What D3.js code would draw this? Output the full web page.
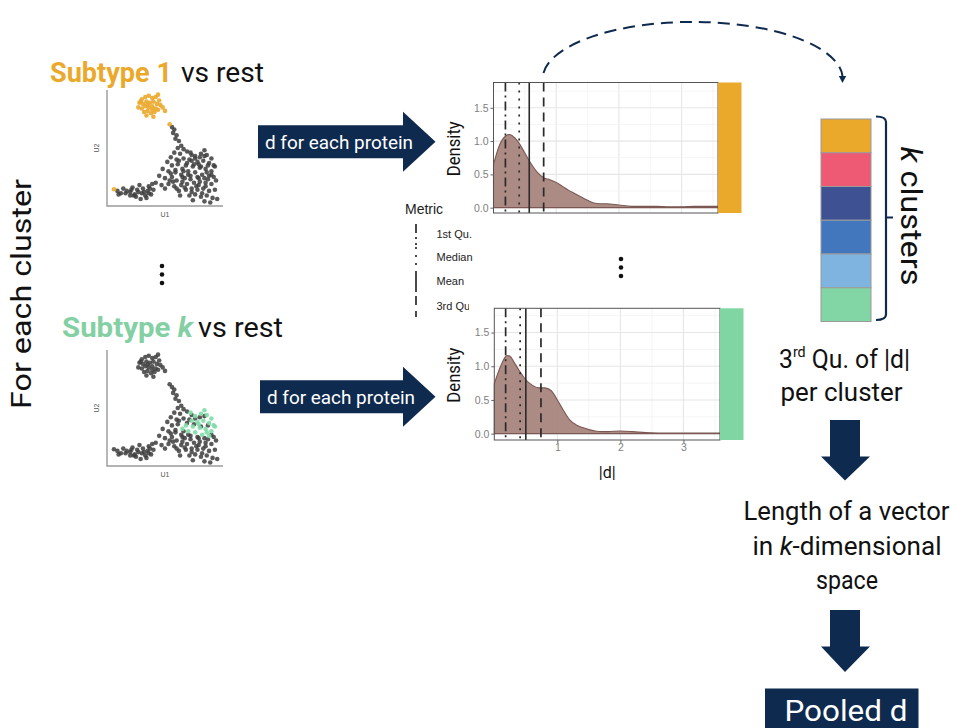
<!DOCTYPE html>
<html><head><meta charset="utf-8">
<script src="https://cdn.jsdelivr.net/npm/d3@7"></script>
<style>body{margin:0;background:#fff}</style>
</head><body>
<svg id="c" width="954" height="728"></svg>
<script>
// ---------------- DATA ----------------
// UMAP embedding (U1, U2), split by group
const s1U1 = [3.0,3.3,3.6,3.9,4.2,4.5,2.8,3.1,3.4,3.7,4.0,4.3,4.6,2.7,3.0,3.3,3.6,3.9,4.2,4.8,3.2,3.5,3.8,4.1,4.4,3.4,4.0,5.0,3.5,3.9,4.4,2.9,5.4,0.6];
const s1U2 = [9.2,9.4,9.5,9.3,9.4,9.1,8.9,8.8,9.0,8.9,9.0,8.8,8.7,8.5,8.4,8.6,8.5,8.6,8.4,8.5,8.1,8.2,8.0,8.1,8.3,7.8,7.7,8.2,8.75,8.3,9.6,9.0,7.05,1.45];
const skU1 = [7.6,8.1,8.6,9.0,7.3,7.8,8.3,8.8,9.2,6.8,7.4,8.0,8.5,9.0,7.0,7.6,8.2,8.8,6.5,9.3,7.9,8.6,7.2,8.4];
const skU2 = [4.3,4.5,4.4,4.1,3.9,3.8,3.9,3.7,3.5,3.5,3.4,3.3,3.2,3.0,3.0,2.9,2.7,2.6,3.2,3.4,3.6,2.9,4.6,4.8];
const restU1 = [5.6,5.8,5.7,6.0,5.9,6.2,6.4,6.1,6.6,
  5.8,6.3,6.9,7.3,5.5,6.0,6.6,7.1,7.6,8.0,8.4,
  5.2,5.6,6.1,4.8,5.3,5.9,6.4,4.5,5.0,5.6,6.0,6.7,7.2,4.2,5.3,5.8,6.4,6.9,7.5,8.0,8.5,9.0,6.2,6.8,7.3,7.8,8.3,8.8,9.3,7.1,7.6,8.1,8.6,9.1,9.5,8.4,8.9,5.5,7.0,9.4,6.3,7.4,5.0,4.7,
  7.9,8.7,9.2,6.5,7.7,8.2,5.7,6.6,
  6.2,6.9,7.5,8.1,8.7,5.9,6.5,7.2,7.8,8.4,9.0,6.7,7.3,7.9,8.5,5.4,6.0,
  0.9,1.2,1.4,1.7,2.0,2.2,2.4,2.6,2.8,3.0,3.1,3.3,3.5,3.6,3.8,4.0,2.5,2.9,3.4,3.9,1.0,2.1,2.7,3.2,3.7,2.3,1.6,2.0,3.6];
const restU2 = [6.8,6.6,6.3,6.1,5.8,5.6,5.2,5.0,4.9,
  4.6,4.5,4.7,4.4,4.2,4.0,4.1,4.0,4.1,4.2,4.3,
  3.8,3.5,3.6,3.2,3.0,3.1,2.7,2.6,2.4,2.5,2.2,2.4,2.3,2.0,1.9,1.7,1.8,1.9,2.0,2.1,2.0,1.9,1.3,1.4,1.5,1.4,1.5,1.3,1.4,0.9,1.0,0.8,0.9,0.7,0.6,0.4,0.3,2.8,2.7,2.2,0.9,0.5,1.5,1.8,
  2.4,2.3,2.5,2.1,1.7,1.1,2.1,3.0,
  3.9,3.7,3.6,3.4,3.5,2.9,2.5,2.6,2.5,2.4,2.7,1.6,1.2,1.8,1.7,2.2,1.5,
  1.3,1.1,1.5,1.3,1.2,1.6,1.0,1.4,1.8,1.1,1.5,0.9,1.3,1.7,1.0,1.4,0.8,0.6,0.7,1.9,1.0,1.4,1.2,1.2,1.5,0.9,1.1,0.9,1.1];

// density of |d| per protein
const densityX  = [0,0.1,0.2,0.25,0.3,0.4,0.5,0.6,0.7,0.8,0.9,1.0,1.1,1.2,1.3,1.4,1.5,1.6,1.7,1.8,2.0,2.2,2.4,2.6,2.8,3.0,3.2,3.4,3.58];
const densityS1 = [0.65,0.95,1.08,1.10,1.08,0.98,0.82,0.66,0.53,0.45,0.42,0.38,0.32,0.26,0.21,0.16,0.11,0.07,0.06,0.06,0.04,0.02,0.02,0.02,0.015,0.015,0.02,0.02,0.02];
const densitySk = [0.74,1.0,1.16,1.15,1.08,0.93,0.80,0.72,0.68,0.68,0.64,0.50,0.34,0.20,0.13,0.09,0.06,0.04,0.03,0.03,0.04,0.03,0.015,0.01,0.01,0.01,0.01,0.01,0.01];

const metricNames = ["1st Qu.","Median","Mean","3rd Qu."];
const metricS1 = [0.19,0.41,0.57,0.80];
const metricSk = [0.18,0.41,0.50,0.74];
const yTicks = [0,0.5,1.0,1.5];
const xTicks = [1,2,3];

const clusterColors = ["#EBA92C","#EE5A73","#3D5193","#4377BD","#7FB3E0","#82D6A5"];

// ---------------- STYLE ----------------
const NAVY = "#0f2a4f";
const ORANGE = "#EBA92C";
const GREEN = "#84D0A4";
const SLIDE = "Roboto, 'Noto Sans', sans-serif";
const GG = "'Liberation Sans', Arial, sans-serif";
const dashes = ["9,4,2,4","2,6",null,"9,6"];

const svg = d3.select("#c");

function fitText(sel, w){ return sel.attr("textLength",w).attr("lengthAdjust","spacingAndGlyphs"); }

// ---------------- LEFT TITLE ----------------
fitText(svg.append("text").attr("transform","translate(31,294) rotate(-90)")
  .attr("text-anchor","middle").attr("font-family",SLIDE).attr("font-size",28).attr("fill","#111"), 230)
  .text("For each cluster");

// ---------------- HEADINGS ----------------
// Subtype 1 vs rest
fitText(svg.append("text").attr("x",50).attr("y",82).attr("font-family",SLIDE).attr("font-weight",700)
  .attr("font-size",28).attr("fill",ORANGE), 122).text("Subtype 1");
fitText(svg.append("text").attr("x",181).attr("y",82).attr("font-family",SLIDE)
  .attr("font-size",28).attr("fill","#111"), 83).text("vs rest");
// Subtype k vs rest
const hk = fitText(svg.append("text").attr("x",62).attr("y",337).attr("font-family",SLIDE).attr("font-weight",700)
  .attr("font-size",28).attr("fill",GREEN), 131);
hk.append("tspan").text("Subtype ");
hk.append("tspan").attr("font-style","italic").text("k");
fitText(svg.append("text").attr("x",198).attr("y",337).attr("font-family",SLIDE)
  .attr("font-size",28).attr("fill","#111"), 85).text("vs rest");

// ---------------- SCATTERS ----------------
function scatter(top, hiU1, hiU2, hiColor, others){
  const x = d3.scaleLinear().domain([0,10]).range([107, 223]);
  const y = d3.scaleLinear().domain([0,10]).range([top+116, top]);
  const g = svg.append("g");
  g.append("path").attr("d",`M${x(0)},${y(10)}V${y(0)}H${x(10)}`).attr("fill","none").attr("stroke","#9a9a9a").attr("stroke-width",1.4);
  g.append("text").attr("x",(x(0)+x(10))/2).attr("y",y(0)+11).attr("text-anchor","middle")
    .attr("font-family",GG).attr("font-size",7).attr("fill","#555").text("U1");
  g.append("text").attr("transform",`translate(${x(0)-8},${(y(0)+y(10))/2}) rotate(-90)`).attr("text-anchor","middle")
    .attr("font-family",GG).attr("font-size",7).attr("fill","#555").text("U2");
  others.forEach(([u1,u2])=>{
    g.append("g").selectAll("circle").data(u1.map((v,i)=>[v,u2[i]])).join("circle")
      .attr("cx",d=>x(d[0])).attr("cy",d=>y(d[1])).attr("r",2.3).attr("fill","#3d3d3d").attr("fill-opacity",0.85);
  });
  g.append("g").selectAll("circle").data(hiU1.map((v,i)=>[v,hiU2[i]])).join("circle")
    .attr("cx",d=>x(d[0])).attr("cy",d=>y(d[1])).attr("r",2.3).attr("fill",hiColor).attr("fill-opacity",0.9);
}
scatter(90, s1U1, s1U2, ORANGE, [[restU1,restU2],[skU1,skU2]]);
scatter(350, skU1, skU2, "#7fdca6", [[restU1,restU2],[s1U1,s1U2]]);

// ellipsis dots
[[162,266],[162,274.5],[162,283],[621,259],[621,267.5],[621,276]].forEach(([cx,cy])=>{
  svg.append("circle").attr("cx",cx).attr("cy",cy).attr("r",2.3).attr("fill","#111");
});

// ---------------- BLOCK ARROWS ----------------
function rightArrow(x0, yc, label){
  const p = d3.path();
  p.moveTo(x0, yc-16.5); p.lineTo(403, yc-16.5); p.lineTo(403, yc-30); p.lineTo(435.5, yc);
  p.lineTo(403, yc+30); p.lineTo(403, yc+16.5); p.lineTo(x0, yc+16.5); p.closePath();
  svg.append("path").attr("d",p.toString()).attr("fill",NAVY);
  fitText(svg.append("text").attr("x",x0+7).attr("y",yc+7.5).attr("font-family",SLIDE).attr("font-size",19)
    .attr("fill","#fff"), 148).text(label);
}
rightArrow(258, 141.7, "d for each protein");
rightArrow(260, 396.7, "d for each protein");

// ---------------- DENSITY PLOTS ----------------
function densityPlot(o){
  const x = d3.scaleLinear().domain([0,3.58]).range([o.left, o.right]);
  const y = d3.scaleLinear().domain(o.yDom).range([o.bottom, o.top]);
  const g = svg.append("g");
  g.append("rect").attr("x",o.left).attr("y",o.top).attr("width",o.right-o.left).attr("height",o.bottom-o.top).attr("fill","#fff");
  // grid
  d3.range(0.5,3.6,0.5).forEach(v=>{
    g.append("line").attr("x1",x(v)).attr("x2",x(v)).attr("y1",o.top).attr("y2",o.bottom)
      .attr("stroke",Number.isInteger(v)?"#e6e6e6":"#f1f1f1").attr("stroke-width",Number.isInteger(v)?1.1:0.7);
  });
  d3.range(0,1.9,0.25).forEach(v=>{
    const major = Math.abs(v*2-Math.round(v*2))<1e-6;
    g.append("line").attr("x1",o.left).attr("x2",o.right).attr("y1",y(v)).attr("y2",y(v))
      .attr("stroke",major?"#e6e6e6":"#f1f1f1").attr("stroke-width",major?1.1:0.7);
  });
  const area = d3.area().x((d,i)=>x(densityX[i])).y0(y(0)).y1(d=>y(d)).curve(d3.curveMonotoneX);
  g.append("path").attr("d",area(o.dens)).attr("fill","#a9857e").attr("fill-opacity",0.95)
    .attr("stroke","#7b5853").attr("stroke-width",1.1);
  // metric lines
  o.metrics.forEach((m,i)=>{
    g.append("line").attr("x1",x(m)).attr("x2",x(m)).attr("y1",o.top).attr("y2",o.bottom)
      .attr("stroke","#2a2a2a").attr("stroke-width",i===2?1.6:1.7)
      .attr("stroke-dasharray",dashes[i]);
  });
  g.append("rect").attr("x",o.left).attr("y",o.top).attr("width",o.right-o.left).attr("height",o.bottom-o.top)
    .attr("fill","none").attr("stroke","#555").attr("stroke-width",1);
  // strip
  g.append("rect").attr("x",o.right).attr("y",o.top).attr("width",23.5).attr("height",o.bottom-o.top).attr("fill",o.strip);
  // y axis
  const ya = g.append("g").attr("transform",`translate(${o.left},0)`)
    .call(d3.axisLeft(y).tickValues(yTicks).tickFormat(d3.format(".1f")).tickSize(3).tickPadding(2));
  ya.select(".domain").remove();
  ya.selectAll("line").attr("stroke","#666");
  ya.selectAll("text").attr("font-family",GG).attr("font-size",10.5).attr("fill","#808080");
  fitText(g.append("text").attr("transform",`translate(460,${(o.top+o.bottom)/2+1}) rotate(-90)`).attr("text-anchor","middle")
    .attr("font-family",SLIDE).attr("font-size",17.5).attr("fill","#111"), 55).text("Density");
  if(o.showX){
    const xa = g.append("g").attr("transform",`translate(0,${o.bottom})`)
      .call(d3.axisBottom(x).tickValues(xTicks).tickFormat(d3.format("d")).tickSize(3).tickPadding(1));
    xa.select(".domain").remove();
    xa.selectAll("line").attr("stroke","#666");
    xa.selectAll("text").attr("font-family",GG).attr("font-size",10.5).attr("fill","#808080");
    g.append("text").attr("x",(o.left+o.right)/2).attr("y",o.bottom+38).attr("text-anchor","middle")
      .attr("font-family",SLIDE).attr("font-size",16).attr("fill","#111").text("|d|");
  }
}
densityPlot({left:493.5,right:718,top:82.5,bottom:213,yDom:[-0.08,1.88],dens:densityS1,metrics:metricS1,strip:ORANGE,showX:false});

// legend
svg.append("text").attr("x",405).attr("y",214).attr("font-family",GG).attr("font-size",14).attr("fill","#222").text("Metric");
const legY = [234,257,281,306];
metricNames.forEach((n,i)=>{
  svg.append("line").attr("x1",416).attr("x2",416).attr("y1",legY[i]-10).attr("y2",legY[i]+11)
    .attr("stroke","#2a2a2a").attr("stroke-width",1.7).attr("stroke-dasharray",dashes[i]);
  svg.append("text").attr("x",436.5).attr("y",legY[i]+4).attr("font-family",GG).attr("font-size",11).attr("fill","#222").text(n);
});
// the lower plot image sits over the legend's last label
svg.append("rect").attr("x",469).attr("y",298).attr("width",285).attr("height",190).attr("fill","#fff");

densityPlot({left:494.3,right:720,top:308.3,bottom:440,yDom:[-0.094,1.86],dens:densitySk,metrics:metricSk,strip:"#80D6A2",showX:true});

// dashed arc from the 3rd quartile to the cluster vector
svg.append("path").attr("d","M543.5,73 A150,57 0 0 1 842.5,76").attr("fill","none")
  .attr("stroke",NAVY).attr("stroke-width",2).attr("stroke-dasharray","12,7");
svg.append("path").attr("d","M838.8,76 L846.2,76 L842.5,83 Z").attr("fill",NAVY);

// ---------------- CLUSTER VECTOR ----------------
const cellH = (321.5-119)/clusterColors.length;
svg.append("g").selectAll("rect").data(clusterColors).join("rect")
  .attr("x",821).attr("y",(d,i)=>119+i*cellH).attr("width",50).attr("height",cellH)
  .attr("fill",d=>d).attr("stroke","#9a9a9a").attr("stroke-width",1);
svg.append("path").attr("d","M876,116.5 Q886,116.5 886,122 V314.5 Q886,320 876,320 M886,217.5 H893")
  .attr("fill","none").attr("stroke",NAVY).attr("stroke-width",2.2);
const kc = fitText(svg.append("text").attr("transform","translate(901,216) rotate(90)").attr("text-anchor","middle")
  .attr("font-family",SLIDE).attr("font-size",29).attr("fill","#111"), 139);
kc.append("tspan").attr("font-style","italic").text("k");
kc.append("tspan").text(" clusters");

// ---------------- RIGHT FLOW ----------------
const t1 = fitText(svg.append("text").attr("x",779).attr("y",368).attr("font-family",SLIDE).attr("font-size",26).attr("fill","#111"), 131);
t1.append("tspan").text("3");
t1.append("tspan").attr("font-size",15).attr("dy",-11).text("rd");
t1.append("tspan").attr("dy",11).text(" Qu. of |d|");
fitText(svg.append("text").attr("x",841.5).attr("y",401).attr("text-anchor","middle").attr("font-family",SLIDE).attr("font-size",26)
  .attr("fill","#111"), 122).text("per cluster");

function downArrow(top, mid, tip){
  const p = d3.path();
  p.moveTo(830, top); p.lineTo(860, top); p.lineTo(860, mid); p.lineTo(870, mid); p.lineTo(845, tip);
  p.lineTo(821, mid); p.lineTo(830, mid); p.closePath();
  svg.append("path").attr("d",p.toString()).attr("fill",NAVY);
}
downArrow(420, 456.5, 480.5);
downArrow(610, 646.5, 672);

fitText(svg.append("text").attr("x",846.5).attr("y",520).attr("text-anchor","middle").attr("font-family",SLIDE).attr("font-size",25)
  .attr("fill","#111"), 206).text("Length of a vector");
const t3 = fitText(svg.append("text").attr("x",847).attr("y",555).attr("text-anchor","middle").attr("font-family",SLIDE).attr("font-size",26)
  .attr("fill","#111"), 189);
t3.append("tspan").text("in ");
t3.append("tspan").attr("font-style","italic").text("k");
t3.append("tspan").text("-dimensional");
fitText(svg.append("text").attr("x",847).attr("y",589).attr("text-anchor","middle").attr("font-family",SLIDE).attr("font-size",26)
  .attr("fill","#111"), 62).text("space");

svg.append("rect").attr("x",765).attr("y",688.5).attr("width",153.5).attr("height",40).attr("fill",NAVY);
fitText(svg.append("text").attr("x",846).attr("y",721).attr("text-anchor","middle").attr("font-family",SLIDE).attr("font-size",29)
  .attr("fill","#fff"), 123).text("Pooled d");
</script>
</body></html>
